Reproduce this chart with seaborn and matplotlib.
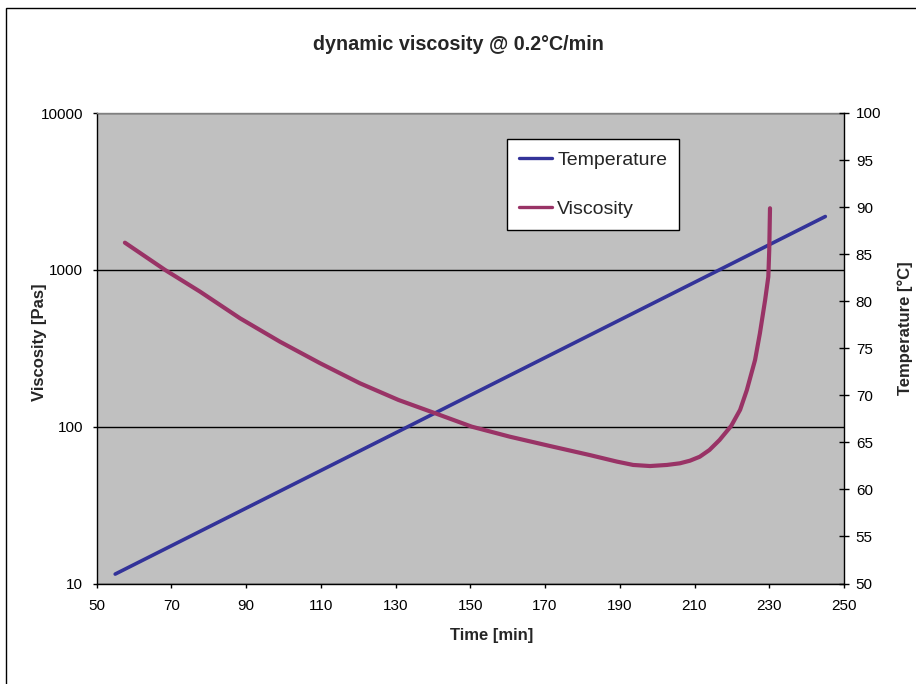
import matplotlib
matplotlib.use("Agg")
import matplotlib.pyplot as plt
from matplotlib.patches import Rectangle
from matplotlib.ticker import FixedLocator, FixedFormatter, NullLocator
import seaborn as sns
import pandas as pd

# ---- data ----
temp_time = [55, 245]
temperature = [51, 89]

visc_time = [57.6, 68.3, 77.7, 88.4, 99.1, 109.8, 120.5, 130.8, 140.1, 150.4,
             160.6, 171.3, 182.0, 189.2, 193.6, 198.1, 202.6, 206.1, 208.8,
             211.4, 214.0, 216.7, 219.8, 222.2, 224.0, 226.2, 227.5,
             228.9, 229.75, 230.0, 230.2]
viscosity = [1490, 1000, 726, 491, 348, 254, 189, 148, 123, 100,
             86.3, 75.3, 65.9, 59.9, 57.0, 56.1, 57.0, 58.4, 60.7,
             64.3, 71, 82.2, 101, 128, 171, 266, 394,
             643, 903, 1340, 2470]

x_ticks = [50, 70, 90, 110, 130, 150, 170, 190, 210, 230, 250]
visc_ticks = [10, 100, 1000, 10000]
visc_tick_labels = ["10", "100", "1000", "10000"]
temp_ticks = [50, 55, 60, 65, 70, 75, 80, 85, 90, 95, 100]

title = "dynamic viscosity @ 0.2°C/min"
xlabel = "Time [min]"
ylabel_left = "Viscosity [Pas]"
ylabel_right = "Temperature [°C]"

temp_df = pd.DataFrame({"time": temp_time, "value": temperature})
visc_df = pd.DataFrame({"time": visc_time, "value": viscosity})

# ---- style ----
sns.set_style("white")
plt.rcParams["font.family"] = ["Liberation Sans", "DejaVu Sans"]

W, H = 916, 684
fig = plt.figure(figsize=(W / 100, H / 100), dpi=100)

L, R, T, B = 96.5, 844, 113, 583.5
ax = fig.add_axes([L / W, 1 - B / H, (R - L) / W, (B - T) / H])
ax2 = ax.twinx()
ax3 = ax.twinx()

C_TEMP = "#333399"
C_VISC = "#993366"

# host axis: log viscosity scale, background and grid
ax.set_facecolor("#C0C0C0")
ax.set_yscale("log")
ax.set_ylim(10, 10000)
ax.set_xlim(50, 250)
ax.yaxis.set_major_locator(FixedLocator(visc_ticks))
ax.yaxis.set_major_formatter(FixedFormatter(visc_tick_labels))
ax.yaxis.set_minor_locator(NullLocator())
ax.set_xticks(x_ticks)
ax.set_xticklabels([str(v) for v in x_ticks])
ax.yaxis.grid(True, color="black", linewidth=1.0)
ax.xaxis.grid(False)
ax.set_axisbelow(True)
ax.tick_params(axis="y", which="major", direction="out", length=3.2, width=1,
               pad=6.5, labelsize=11, colors="black", left=True)
ax.tick_params(axis="x", which="major", direction="out", length=3.2, width=1,
               pad=8, labelsize=11, colors="black", bottom=True)
for s in ["left", "bottom"]:
    ax.spines[s].set_color("black")
    ax.spines[s].set_linewidth(1.0)
ax.spines["top"].set_color("#808080")
ax.spines["top"].set_linewidth(1.0)
ax.spines["right"].set_visible(False)

# temperature axis (right)
sns.lineplot(data=temp_df, x="time", y="value", ax=ax2, color=C_TEMP,
             linewidth=2.6, label="Temperature", estimator=None, sort=False)
ax2.set_ylim(50, 100)
ax2.set_yticks(temp_ticks)
ax2.set_yticklabels([str(v) for v in temp_ticks])
ax2.tick_params(axis="y", direction="inout", length=7, width=1, pad=5,
                labelsize=11, colors="black", right=True)
for s in ["left", "top", "bottom"]:
    ax2.spines[s].set_visible(False)
ax2.spines["right"].set_color("black")
ax2.spines["right"].set_linewidth(1.0)
ax2.set_ylabel("")
ax2.set_xlabel("")

# viscosity curve (topmost, log scale)
ax3.set_yscale("log")
ax3.set_ylim(10, 10000)
sns.lineplot(data=visc_df, x="time", y="value", ax=ax3, color=C_VISC,
             linewidth=3.0, label="Viscosity", estimator=None, sort=False)
ax3.get_lines()[0].set_solid_joinstyle("round")
ax3.set_ylim(10, 10000)
ax3.set_xlim(50, 250)
ax3.yaxis.set_visible(False)
for s in ax3.spines.values():
    s.set_visible(False)
ax3.set_xlabel("")
ax3.set_ylabel("")
ax.set_xlabel("")
ax.set_ylabel("")

for a in (ax2, ax3):
    lg = a.get_legend()
    if lg is not None:
        lg.remove()

h2, l2 = ax2.get_legend_handles_labels()
h3, l3 = ax3.get_legend_handles_labels()
leg = ax3.legend(h2 + h3, l2 + l3, loc="upper left",
                 bbox_to_anchor=(506.7 / W, 1 - 139.3 / H),
                 bbox_transform=fig.transFigure, borderaxespad=0,
                 fontsize=14, handlelength=1.7, handletextpad=0.28,
                 labelspacing=1.6, borderpad=0.62, fancybox=False,
                 framealpha=1, facecolor="white", edgecolor="black")
leg.get_frame().set_linewidth(1.0)
for ln in leg.get_lines():
    ln.set_linewidth(2.4)

# texts
fig.text(458 / W, 1 - 45 / H, title, ha="center", va="center",
         fontsize=14.2, fontweight="bold")
fig.text(492 / W, 1 - 635.5 / H, xlabel, ha="center", va="center",
         fontsize=12, fontweight="bold")
fig.text(39.5 / W, 1 - 342 / H, ylabel_left, ha="center", va="center",
         rotation=90, fontsize=12, fontweight="bold")
fig.text(905 / W, 1 - 328 / H, ylabel_right, ha="center", va="center",
         rotation=90, fontsize=12, fontweight="bold")

# outer chart frame (cut off at right and bottom)
fig.add_artist(Rectangle((6 / W, -0.1), 1.2, (1 - 8 / H) + 0.1, fill=False,
                         edgecolor="black", linewidth=1.0,
                         transform=fig.transFigure))

fig.savefig("out.png", dpi=100)
